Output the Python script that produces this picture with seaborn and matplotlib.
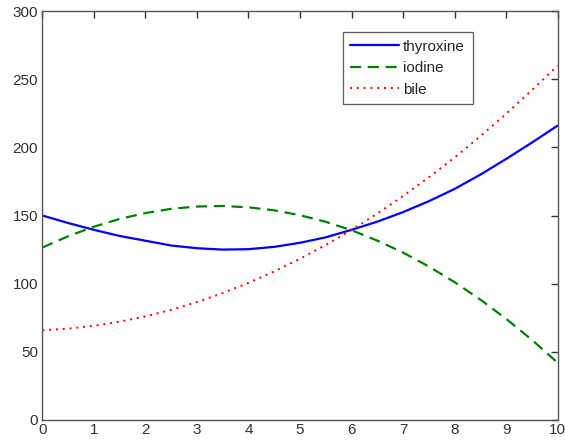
import numpy as np
import pandas as pd
import matplotlib
matplotlib.use("Agg")
import matplotlib.pyplot as plt
import seaborn as sns

# Sampled curve values
x = [0, 0.5, 1, 1.5, 2, 2.5, 3, 3.5, 4, 4.5, 5,
     5.5, 6, 6.5, 7, 7.5, 8, 8.5, 9, 9.5, 10]
thyroxine = [150, 144.5, 139.5, 135, 131.5, 128, 126, 125, 125.3, 127, 130,
             134, 139.5, 145.5, 152.5, 160.5, 169.5, 180, 191.5, 203.5, 216]
iodine = [126.5, 134.8, 141.8, 147.5, 151.8, 154.9, 156.6, 157, 156, 153.8, 150.2,
          145.4, 139.2, 131.6, 122.8, 112.6, 101.1, 88.3, 74.2, 58.8, 42]
bile = [65.8, 67.0, 69.1, 72.1, 76.0, 80.8, 86.5, 93.1, 100.6, 109.0, 118.3,
        128.4, 139.4, 151.4, 164.3, 178.0, 192.6, 208.2, 224.6, 242.0, 260.0]

xticks = list(range(0, 11))
yticks = [0, 50, 100, 150, 200, 250, 300]

sns.set_theme(style="white")
plt.rcParams["font.family"] = ["Liberation Sans", "DejaVu Sans"]

df = pd.DataFrame({"x": x, "thyroxine": thyroxine, "iodine": iodine, "bile": bile})

fig = plt.figure(figsize=(5.65, 4.43), dpi=100)
ax = fig.add_axes([0.075, 0.052, 0.912, 0.923])

sns.lineplot(data=df, x="x", y="thyroxine", ax=ax, color="#0000ff",
             linewidth=1.6, label="thyroxine")
sns.lineplot(data=df, x="x", y="iodine", ax=ax, color="#008000",
             linewidth=1.6, label="iodine")
sns.lineplot(data=df, x="x", y="bile", ax=ax, color="#ff0000",
             linewidth=1.4, label="bile")

ax.lines[1].set_linestyle((0, (5, 3)))
ax.lines[2].set_linestyle((0, (1, 2.5)))

ax.set_xlim(0, 10)
ax.set_ylim(0, 300)
ax.set_xticks(xticks)
ax.set_yticks(yticks)
ax.set_xlabel("")
ax.set_ylabel("")

for sp in ax.spines.values():
    sp.set_color("#555555")
    sp.set_linewidth(1.0)

ax.tick_params(direction="in", length=5, width=1, colors="#333333",
               labelsize=11, top=True, right=True, pad=2)
ax.tick_params(axis="y", pad=3)

leg = ax.legend(loc="upper left", bbox_to_anchor=(0.583, 0.949),
                frameon=True, fontsize=11, handlelength=3.2,
                handletextpad=0.25, borderpad=0.5, labelspacing=0.5,
                fancybox=False, borderaxespad=0)
leg.get_frame().set_edgecolor("#333333")
leg.get_frame().set_linewidth(0.9)

fig.savefig("out.png", dpi=100, facecolor="white")
